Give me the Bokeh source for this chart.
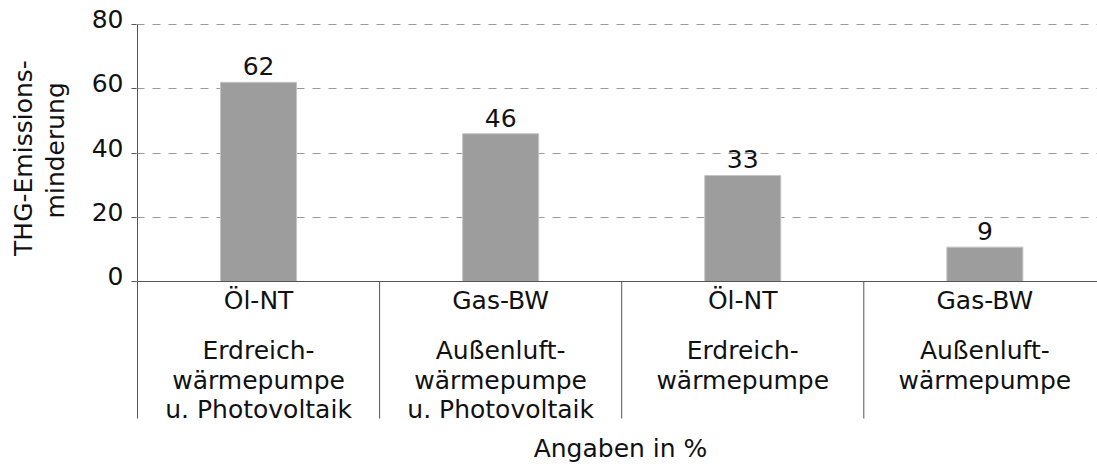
import math
from bokeh.plotting import figure
from bokeh.layouts import row
from bokeh.models import Range1d, FixedTicker, Span, LinearAxis
from bokeh.embed import file_html
from bokeh.resources import INLINE
from bokeh.core.properties import value as pv

# ---------------- data ----------------
fuel = ["Öl-NT", "Gas-BW", "Öl-NT", "Gas-BW"]
tech = [
    "Erdreich-\nwärmepumpe\nu. Photovoltaik",
    "Außenluft-\nwärmepumpe\nu. Photovoltaik",
    "Erdreich-\nwärmepumpe",
    "Außenluft-\nwärmepumpe",
]
values = [62, 46, 33, 10.7]             # drawn bar heights
value_labels = ["62", "46", "33", "9"]  # printed labels
y_ticks = [0, 20, 40, 60, 80]
y_title = ["THG-Emissions-", "minderung"]
x_title = "Angaben in %"

# ---------------- layout ----------------
FONT = "DejaVu Sans"
FS = "25px"
TXT = "#111111"
AX = "#555555"

W, H = 1097, 466
LEFT_W = 80                 # width of the panel holding the y title
FRAME_LEFT = 136
AXIS_X = 137
FRAME_TOP = 14
TOP80_Y = 24
ZERO_Y = 281
SEP_BOTTOM = 418
CAT_W = 242.1
PXU = (ZERO_Y - TOP80_Y) / 80.0
YMAX = (ZERO_Y - FRAME_TOP) / PXU
YMIN = -(H - ZERO_Y) / PXU
XMIN = -(AXIS_X - FRAME_LEFT) / CAT_W
XMAX = (W - AXIS_X) / CAT_W
LABEL_SHIFT = 5.5 / PXU     # tick labels sit slightly above their ticks


def dx(px):
    return (px - AXIS_X) / CAT_W


def dy(py):
    return (ZERO_Y - py) / PXU


# ---------- left panel: y title ----------
lf = figure(width=LEFT_W, height=H, x_range=Range1d(0, LEFT_W),
            y_range=Range1d(H, 0), output_backend="svg",
            toolbar_location=None, min_border=0)
lf.outline_line_color = None
lf.axis.visible = False
lf.grid.visible = False
lf.text(x=[23, 55], y=[148, 140], text=y_title, angle=math.pi / 2,
        text_font=pv(FONT), text_font_size=FS, text_color=TXT,
        text_align="center", text_baseline="middle")

# ---------- main chart ----------
p = figure(
    width=W - LEFT_W, height=H,
    x_range=Range1d(XMIN, XMAX), y_range=Range1d(YMIN, YMAX),
    output_backend="svg", toolbar_location=None,
    min_border_left=FRAME_LEFT - LEFT_W, min_border_right=0,
    min_border_top=FRAME_TOP, min_border_bottom=0,
)
p.outline_line_color = None
p.xaxis.visible = False
p.xgrid.visible = False

# axis with tick marks only
yax = p.yaxis[0]
yax.ticker = FixedTicker(ticks=y_ticks)
yax.minor_tick_line_color = None
yax.major_tick_out = 5
yax.major_tick_in = 0
yax.axis_line_color = None
yax.major_tick_line_color = AX
yax.major_tick_line_width = 1
yax.major_label_overrides = {t: "" for t in y_ticks}
yax.major_label_standoff = 0

# axis carrying the tick labels
p.extra_y_ranges = {"lab": Range1d(YMIN - LABEL_SHIFT, YMAX - LABEL_SHIFT)}
lab_ax = LinearAxis(y_range_name="lab", ticker=FixedTicker(ticks=y_ticks))
lab_ax.axis_line_color = None
lab_ax.major_tick_line_color = None
lab_ax.minor_tick_line_color = None
lab_ax.major_tick_out = 0
lab_ax.major_tick_in = 0
lab_ax.major_label_text_font = FONT
lab_ax.major_label_text_font_size = FS
lab_ax.major_label_text_color = TXT
lab_ax.major_label_standoff = 8
p.add_layout(lab_ax, "left")

p.ygrid.grid_line_color = "#9a9a9a"
p.ygrid.grid_line_dash = "8 8"
p.ygrid.grid_line_width = 1

n = len(fuel)
centers = [i + 0.5 for i in range(n)]

# bars
p.vbar(x=centers, top=values, bottom=0, width=0.314,
       fill_color="#9d9d9d", line_color="#c4c4c4", line_width=1)

# zero line
p.add_layout(Span(location=0, dimension="width", line_color=AX, line_width=1))

# y axis line + category separators
seps = list(range(0, n))
p.segment(x0=seps, y0=[0] * n, x1=seps, y1=[dy(SEP_BOTTOM)] * n,
          line_color=AX, line_width=1)
p.segment(x0=[0], y0=[0], x1=[0], y1=[max(y_ticks)], line_color=AX, line_width=1)

# value labels
p.text(x=centers, y=[v + 16 / PXU for v in values], text=value_labels,
       text_font=pv(FONT), text_font_size=FS, text_color=TXT,
       text_align="center", text_baseline="middle")

# category labels
p.text(x=centers, y=[dy(300)] * n, text=fuel,
       text_font=pv(FONT), text_font_size=FS, text_color=TXT,
       text_align="center", text_baseline="middle")

line_mid = [350, 380, 409]
lx, ly, lt = [], [], []
for i, t in enumerate(tech):
    for j, line in enumerate(t.split("\n")):
        lx.append(centers[i])
        ly.append(dy(line_mid[j]))
        lt.append(line)
p.text(x=lx, y=ly, text=lt,
       text_font=pv(FONT), text_font_size=FS, text_color=TXT,
       text_align="center", text_baseline="middle")

# x title
p.text(x=[dx(620)], y=[dy(448)], text=[x_title],
       text_font=pv(FONT), text_font_size=FS, text_color=TXT,
       text_align="center", text_baseline="middle")

open("out.html", "w").write(file_html(row(lf, p), INLINE))
